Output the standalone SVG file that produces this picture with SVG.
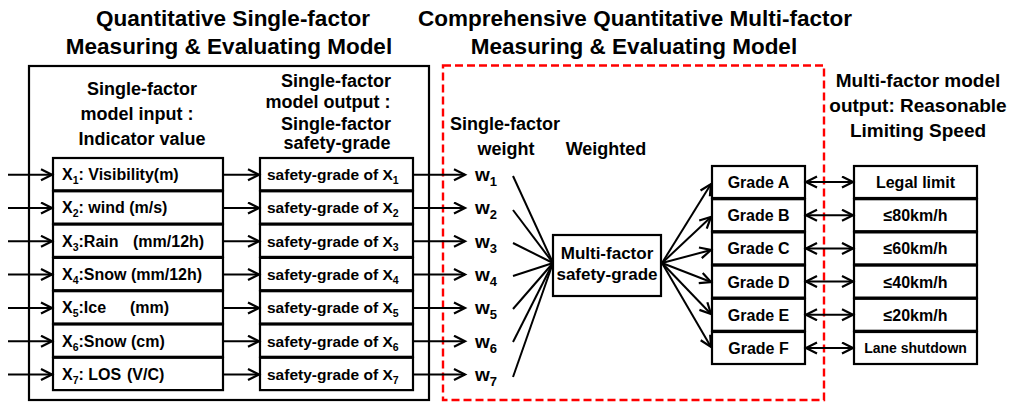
<svg xmlns="http://www.w3.org/2000/svg" width="1009" height="409" viewBox="0 0 1009 409">
<style>
.t{font-family:"Liberation Sans",Arial,sans-serif;font-weight:bold;fill:#000}
.title{font-size:22.5px;text-anchor:middle}
.hdr{font-size:18px}
.mid{text-anchor:middle}
.lbl{font-size:16px}
.box{fill:#fff;stroke:#000;stroke-width:2.2}
.ln{stroke:#000;stroke-width:2;fill:none}
</style>
<defs>
<marker id="ah" markerUnits="userSpaceOnUse" markerWidth="15" markerHeight="14" refX="12" refY="6.5" orient="auto-start-reverse">
<path d="M1,1 L12,6.5 L1,12" fill="none" stroke="#000" stroke-width="2.2"/>
</marker>
</defs>
<rect width="1009" height="409" fill="#fff"/>

<g id="titles">
<text class="t title" x="233" y="26">Quantitative Single-factor</text>
<text class="t title" x="229" y="54">Measuring &amp; Evaluating Model</text>
<text class="t title" x="635" y="26">Comprehensive Quantitative Multi-factor</text>
<text class="t title" x="634" y="54">Measuring &amp; Evaluating Model</text>
</g>

<g id="frames">
<rect x="29" y="66" width="400" height="334" fill="none" stroke="#000" stroke-width="2.2"/>
<rect x="443" y="65.5" width="381" height="334.5" fill="none" stroke="#ff0000" stroke-width="2.4" stroke-dasharray="8 4"/>
</g>

<g id="headers">
<text class="t hdr mid" x="142" y="95">Single-factor</text>
<text class="t hdr mid" x="137" y="120">model input :</text>
<text class="t hdr mid" x="142" y="145">Indicator value</text>
<text class="t hdr mid" x="336" y="87">Single-factor</text>
<text class="t hdr mid" x="328" y="108">model output :</text>
<text class="t hdr mid" x="336" y="130">Single-factor</text>
<text class="t hdr mid" x="337" y="149">safety-grade</text>
<text class="t hdr" x="450" y="130">Single-factor</text>
<text class="t hdr mid" x="506" y="155">weight</text>
<text class="t hdr mid" x="606" y="155">Weighted</text>
<text class="t mid" style="font-size:19px" x="918" y="87">Multi-factor model</text>
<text class="t mid" style="font-size:19px" x="918" y="112">output: Reasonable</text>
<text class="t mid" style="font-size:19px" x="918" y="137">Limiting Speed</text>
</g>

<g id="inputs">
<g id="in1"><rect class="box" x="53" y="158" width="170" height="32.3"/><text class="t lbl" x="62" y="180">X<tspan dy="4" font-size="10.5">1</tspan><tspan dy="-4">: Visibility(m)</tspan></text></g>
<g id="in2"><rect class="box" x="53" y="191.3" width="170" height="32.3"/><text class="t lbl" x="62" y="213.3">X<tspan dy="4" font-size="10.5">2</tspan><tspan dy="-4">: wind (m/s)</tspan></text></g>
<g id="in3"><rect class="box" x="53" y="224.6" width="170" height="32.3"/><text class="t lbl" x="62" y="246.6">X<tspan dy="4" font-size="10.5">3</tspan><tspan dy="-4">:Rain</tspan><tspan x="133">(mm/12h)</tspan></text></g>
<g id="in4"><rect class="box" x="53" y="257.9" width="170" height="32.3"/><text class="t lbl" x="62" y="279.9">X<tspan dy="4" font-size="10.5">4</tspan><tspan dy="-4">:Snow (mm/12h)</tspan></text></g>
<g id="in5"><rect class="box" x="53" y="291.2" width="170" height="32.3"/><text class="t lbl" x="62" y="313.2">X<tspan dy="4" font-size="10.5">5</tspan><tspan dy="-4">:Ice</tspan><tspan x="130">(mm)</tspan></text></g>
<g id="in6"><rect class="box" x="53" y="324.5" width="170" height="32.3"/><text class="t lbl" x="62" y="346.5">X<tspan dy="4" font-size="10.5">6</tspan><tspan dy="-4">:Snow (cm)</tspan></text></g>
<g id="in7"><rect class="box" x="53" y="357.8" width="170" height="32.3"/><text class="t lbl" x="62" y="379.8">X<tspan dy="4" font-size="10.5">7</tspan><tspan dy="-4">: LOS</tspan><tspan x="127">(V/C)</tspan></text></g>
</g>

<g id="outputs">
<g id="out1"><rect class="box" x="260" y="158" width="153" height="32.3"/><text class="t lbl" x="267" y="180" style="font-size:15.5px">safety-grade of X<tspan dy="4" font-size="10.5">1</tspan></text></g>
<g id="out2"><rect class="box" x="260" y="191.3" width="153" height="32.3"/><text class="t lbl" x="267" y="213.3" style="font-size:15.5px">safety-grade of X<tspan dy="4" font-size="10.5">2</tspan></text></g>
<g id="out3"><rect class="box" x="260" y="224.6" width="153" height="32.3"/><text class="t lbl" x="267" y="246.6" style="font-size:15.5px">safety-grade of X<tspan dy="4" font-size="10.5">3</tspan></text></g>
<g id="out4"><rect class="box" x="260" y="257.9" width="153" height="32.3"/><text class="t lbl" x="267" y="279.9" style="font-size:15.5px">safety-grade of X<tspan dy="4" font-size="10.5">4</tspan></text></g>
<g id="out5"><rect class="box" x="260" y="291.2" width="153" height="32.3"/><text class="t lbl" x="267" y="313.2" style="font-size:15.5px">safety-grade of X<tspan dy="4" font-size="10.5">5</tspan></text></g>
<g id="out6"><rect class="box" x="260" y="324.5" width="153" height="32.3"/><text class="t lbl" x="267" y="346.5" style="font-size:15.5px">safety-grade of X<tspan dy="4" font-size="10.5">6</tspan></text></g>
<g id="out7"><rect class="box" x="260" y="357.8" width="153" height="32.3"/><text class="t lbl" x="267" y="379.8" style="font-size:15.5px">safety-grade of X<tspan dy="4" font-size="10.5">7</tspan></text></g>
</g>

<g id="weights">
<text class="t" x="475" y="181" style="font-size:19px">w<tspan dy="5" font-size="13">1</tspan></text>
<text class="t" x="475" y="214.3" style="font-size:19px">w<tspan dy="5" font-size="13">2</tspan></text>
<text class="t" x="475" y="247.6" style="font-size:19px">w<tspan dy="5" font-size="13">3</tspan></text>
<text class="t" x="475" y="280.9" style="font-size:19px">w<tspan dy="5" font-size="13">4</tspan></text>
<text class="t" x="475" y="314.2" style="font-size:19px">w<tspan dy="5" font-size="13">5</tspan></text>
<text class="t" x="475" y="347.5" style="font-size:19px">w<tspan dy="5" font-size="13">6</tspan></text>
<text class="t" x="475" y="380.8" style="font-size:19px">w<tspan dy="5" font-size="13">7</tspan></text>
</g>

<g id="multi">
<rect class="box" x="553" y="235" width="108" height="61"/>
<text class="t mid" x="607" y="259" style="font-size:17px">Multi-factor</text>
<text class="t mid" x="607" y="280" style="font-size:17px">safety-grade</text>
</g>

<g id="grades">
<g id="gA"><rect class="box" x="712" y="166" width="93" height="32"/><text class="t lbl mid" x="758.5" y="188">Grade A</text></g>
<g id="gB"><rect class="box" x="712" y="199.2" width="93" height="32"/><text class="t lbl mid" x="758.5" y="221.2">Grade B</text></g>
<g id="gC"><rect class="box" x="712" y="232.4" width="93" height="32"/><text class="t lbl mid" x="758.5" y="254.4">Grade C</text></g>
<g id="gD"><rect class="box" x="712" y="265.6" width="93" height="32"/><text class="t lbl mid" x="758.5" y="287.6">Grade D</text></g>
<g id="gE"><rect class="box" x="712" y="298.8" width="93" height="32"/><text class="t lbl mid" x="758.5" y="320.8">Grade E</text></g>
<g id="gF"><rect class="box" x="712" y="332" width="93" height="32"/><text class="t lbl mid" x="758.5" y="354">Grade F</text></g>
</g>

<g id="speeds">
<g id="sA"><rect class="box" x="854" y="166" width="123" height="32"/><text class="t lbl mid" x="915.5" y="188">Legal limit</text></g>
<g id="sB"><rect class="box" x="854" y="199.2" width="123" height="32"/><text class="t lbl mid" x="915.5" y="221.2">≤80km/h</text></g>
<g id="sC"><rect class="box" x="854" y="232.4" width="123" height="32"/><text class="t lbl mid" x="915.5" y="254.4">≤60km/h</text></g>
<g id="sD"><rect class="box" x="854" y="265.6" width="123" height="32"/><text class="t lbl mid" x="915.5" y="287.6">≤40km/h</text></g>
<g id="sE"><rect class="box" x="854" y="298.8" width="123" height="32"/><text class="t lbl mid" x="915.5" y="320.8">≤20km/h</text></g>
<g id="sF"><rect class="box" x="854" y="332" width="123" height="32"/><text class="t mid" x="915.5" y="353" style="font-size:14px">Lane shutdown</text></g>
</g>

<g id="connectors">
<line class="ln" x1="8" y1="174.7" x2="52" y2="174.7" marker-end="url(#ah)"/>
<line class="ln" x1="8" y1="208" x2="52" y2="208" marker-end="url(#ah)"/>
<line class="ln" x1="8" y1="241.3" x2="52" y2="241.3" marker-end="url(#ah)"/>
<line class="ln" x1="8" y1="274.6" x2="52" y2="274.6" marker-end="url(#ah)"/>
<line class="ln" x1="8" y1="307.9" x2="52" y2="307.9" marker-end="url(#ah)"/>
<line class="ln" x1="8" y1="341.2" x2="52" y2="341.2" marker-end="url(#ah)"/>
<line class="ln" x1="8" y1="374.5" x2="52" y2="374.5" marker-end="url(#ah)"/>

<line class="ln" x1="224" y1="174.7" x2="259" y2="174.7" marker-end="url(#ah)"/>
<line class="ln" x1="224" y1="208" x2="259" y2="208" marker-end="url(#ah)"/>
<line class="ln" x1="224" y1="241.3" x2="259" y2="241.3" marker-end="url(#ah)"/>
<line class="ln" x1="224" y1="274.6" x2="259" y2="274.6" marker-end="url(#ah)"/>
<line class="ln" x1="224" y1="307.9" x2="259" y2="307.9" marker-end="url(#ah)"/>
<line class="ln" x1="224" y1="341.2" x2="259" y2="341.2" marker-end="url(#ah)"/>
<line class="ln" x1="224" y1="374.5" x2="259" y2="374.5" marker-end="url(#ah)"/>

<line class="ln" x1="414" y1="174.7" x2="465" y2="174.7" marker-end="url(#ah)"/>
<line class="ln" x1="414" y1="208" x2="465" y2="208" marker-end="url(#ah)"/>
<line class="ln" x1="414" y1="241.3" x2="465" y2="241.3" marker-end="url(#ah)"/>
<line class="ln" x1="414" y1="274.6" x2="465" y2="274.6" marker-end="url(#ah)"/>
<line class="ln" x1="414" y1="307.9" x2="465" y2="307.9" marker-end="url(#ah)"/>
<line class="ln" x1="414" y1="341.2" x2="465" y2="341.2" marker-end="url(#ah)"/>
<line class="ln" x1="414" y1="374.5" x2="465" y2="374.5" marker-end="url(#ah)"/>

<line class="ln" x1="513" y1="176" x2="553" y2="263"/>
<line class="ln" x1="513" y1="210" x2="553" y2="263"/>
<line class="ln" x1="513" y1="243" x2="553" y2="263"/>
<line class="ln" x1="513" y1="276" x2="553" y2="263"/>
<line class="ln" x1="513" y1="309" x2="553" y2="263"/>
<line class="ln" x1="513" y1="342" x2="553" y2="263"/>
<line class="ln" x1="513" y1="377" x2="553" y2="263"/>

<line class="ln" x1="662" y1="263" x2="711" y2="184" marker-end="url(#ah)"/>
<line class="ln" x1="662" y1="263" x2="711" y2="217" marker-end="url(#ah)"/>
<line class="ln" x1="662" y1="263" x2="711" y2="250" marker-end="url(#ah)"/>
<line class="ln" x1="662" y1="263" x2="711" y2="282" marker-end="url(#ah)"/>
<line class="ln" x1="662" y1="263" x2="711" y2="314" marker-end="url(#ah)"/>
<line class="ln" x1="662" y1="263" x2="711" y2="347" marker-end="url(#ah)"/>

<line class="ln" x1="806" y1="182" x2="853" y2="182" marker-start="url(#ah)" marker-end="url(#ah)"/>
<line class="ln" x1="806" y1="215.2" x2="853" y2="215.2" marker-start="url(#ah)" marker-end="url(#ah)"/>
<line class="ln" x1="806" y1="248.4" x2="853" y2="248.4" marker-start="url(#ah)" marker-end="url(#ah)"/>
<line class="ln" x1="806" y1="281.6" x2="853" y2="281.6" marker-start="url(#ah)" marker-end="url(#ah)"/>
<line class="ln" x1="806" y1="314.8" x2="853" y2="314.8" marker-start="url(#ah)" marker-end="url(#ah)"/>
<line class="ln" x1="806" y1="348" x2="853" y2="348" marker-start="url(#ah)" marker-end="url(#ah)"/>
</g>
</svg>
